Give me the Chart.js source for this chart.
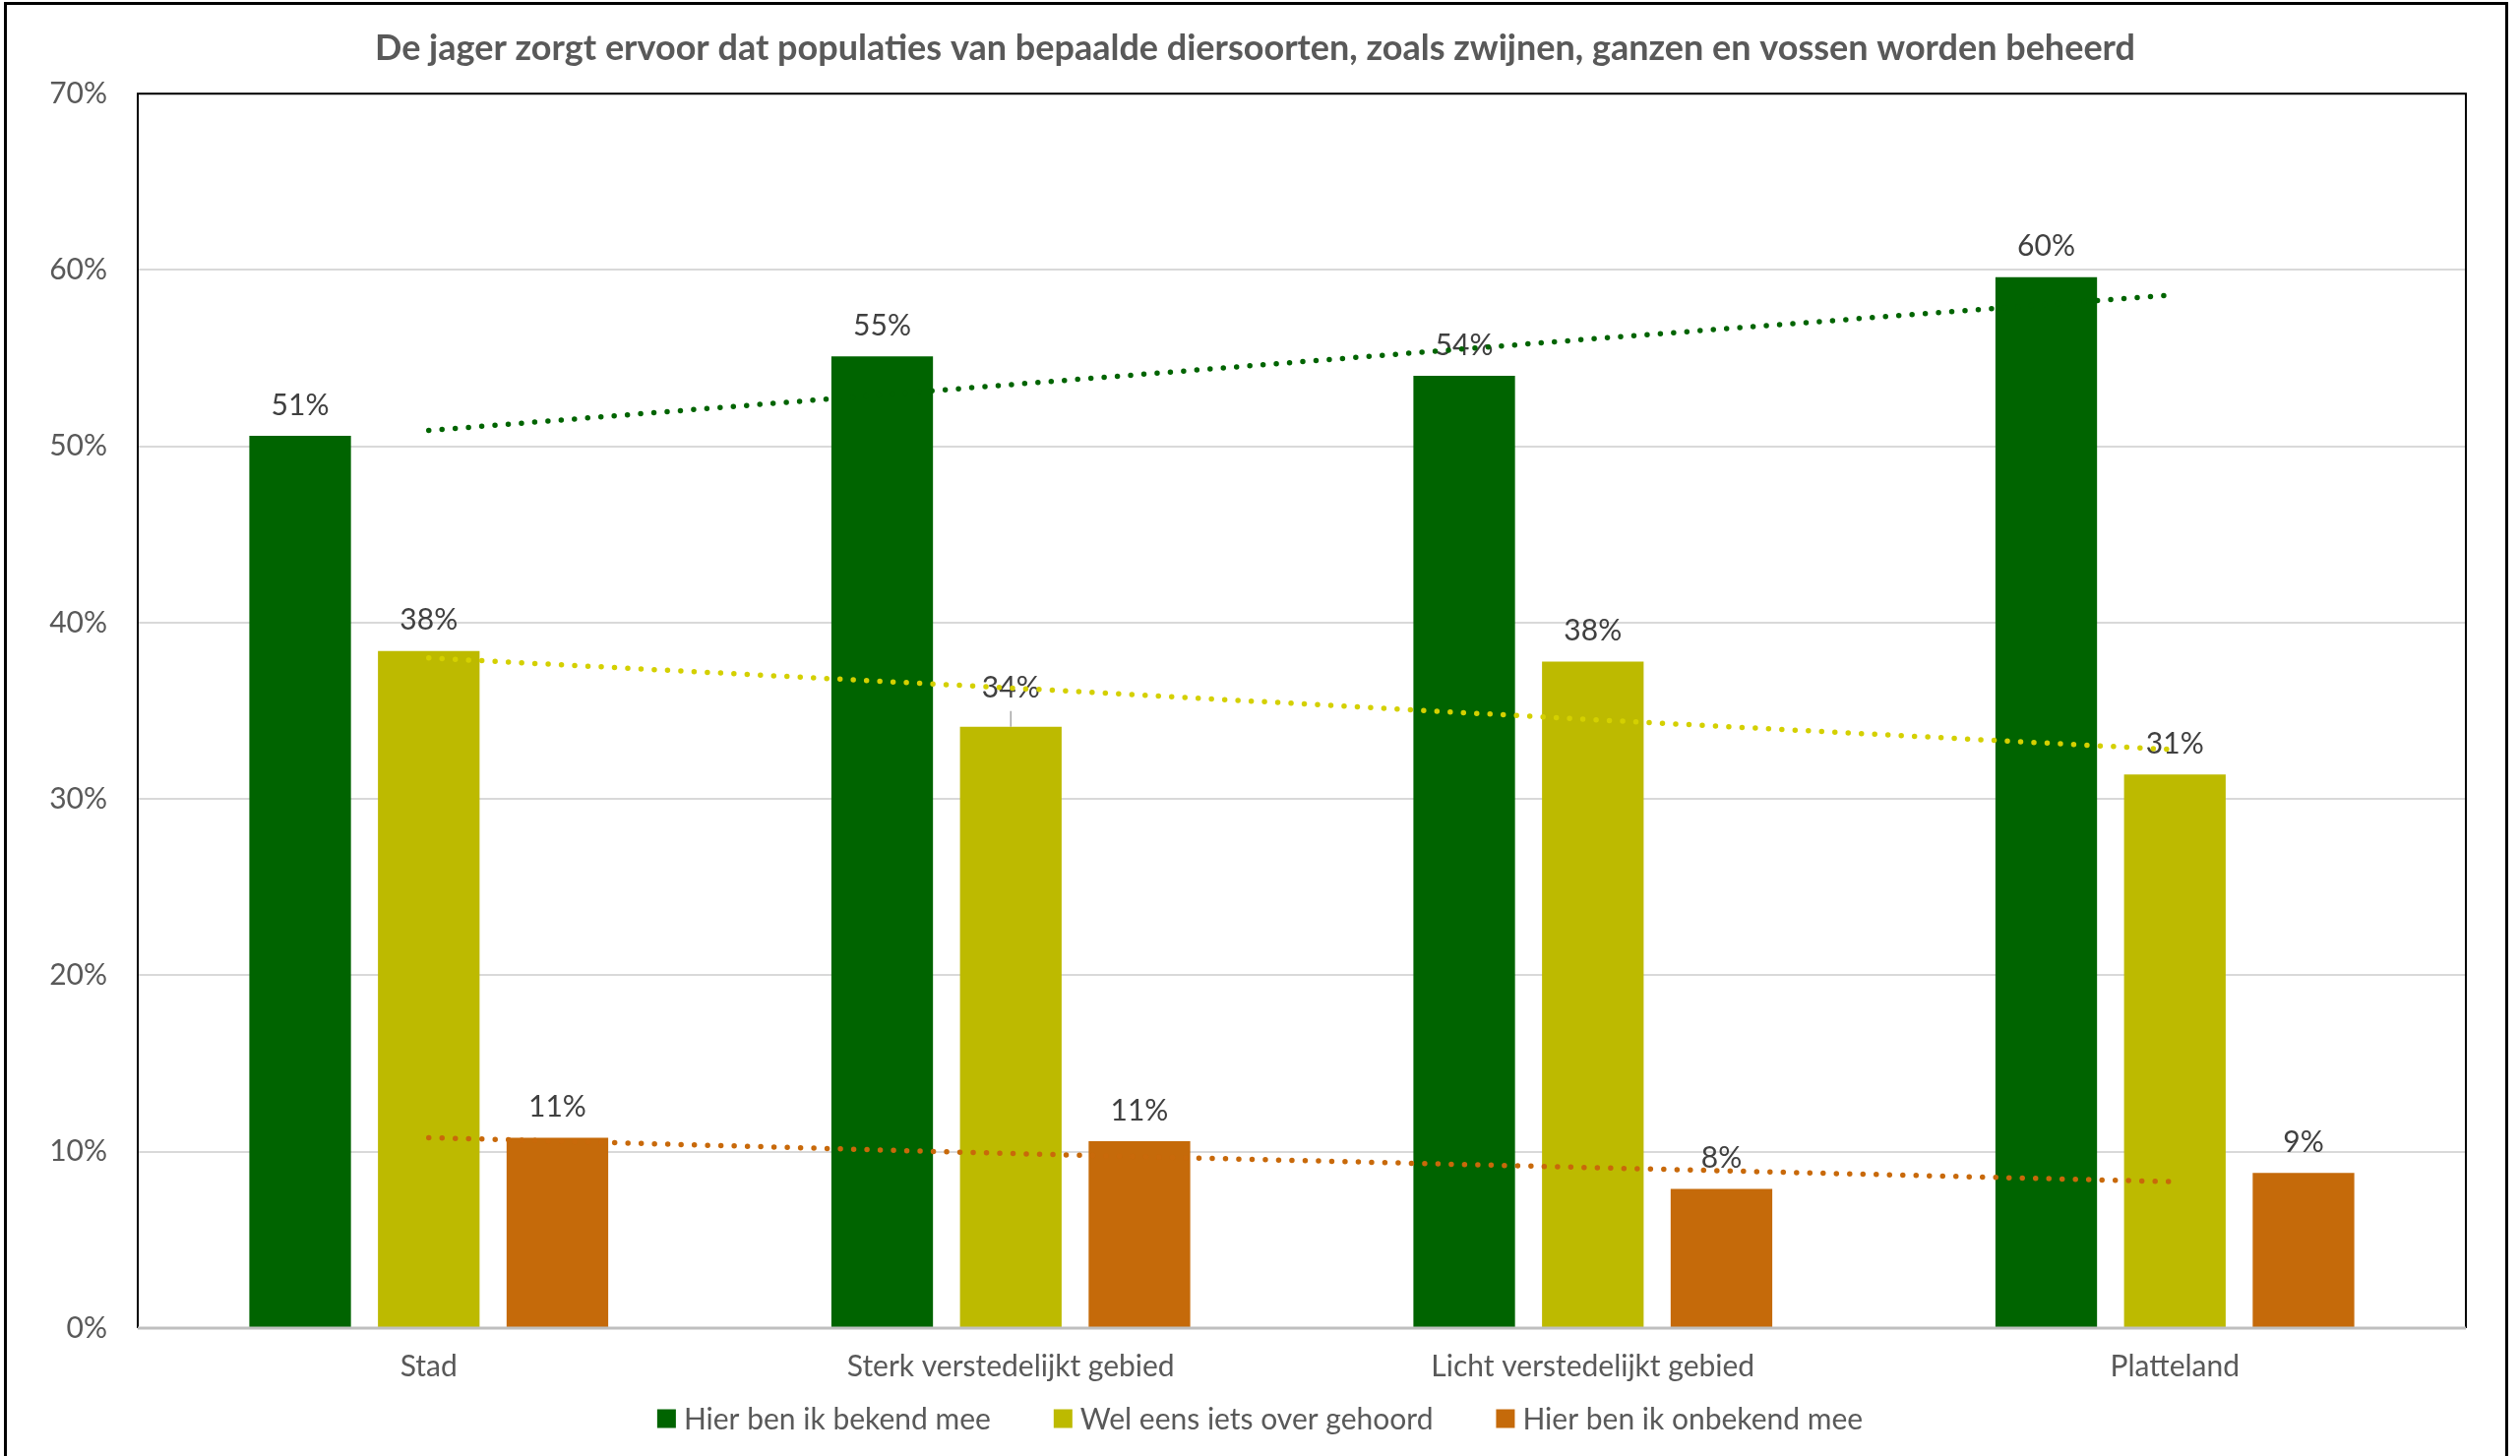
<!DOCTYPE html>
<html>
<head>
<meta charset="utf-8">
<script src="https://cdn.jsdelivr.net/npm/chart.js@4.4.1/dist/chart.umd.min.js"></script>
<style>
  html, body { margin: 0; padding: 0; background: #fff; }
  canvas { display: block; }
</style>
</head>
<body>
<canvas id="chart" width="2561" height="1480"></canvas>
<script>
// gegevens (in procenten)
const title = 'De jager zorgt ervoor dat populaties van bepaalde diersoorten, zoals zwijnen, ganzen en vossen worden beheerd';
const categories = ['Stad', 'Sterk verstedelijkt gebied', 'Licht verstedelijkt gebied', 'Platteland'];
const seriesNames = ['Hier ben ik bekend mee', 'Wel eens iets over gehoord', 'Hier ben ik onbekend mee'];
const bekend = [50.6, 55.1, 54.0, 59.6];
const gehoord = [38.4, 34.1, 37.8, 31.4];
const onbekend = [10.8, 10.6, 7.9, 8.8];
const trendBekend = [50.9, 53.5, 56.1, 58.6];
const trendGehoord = [38.0, 36.3, 34.5, 32.8];
const trendOnbekend = [10.8, 9.9, 9.1, 8.3];
const yTicks = [0, 10, 20, 30, 40, 50, 60, 70];

const barColors = ['#006400', '#BDBA00', '#C56A0A'];
const trendColors = ['#006400', '#D4D000', '#C8690A'];
const FONT = 'Lato';
const smallFont = { family: FONT, size: 30 };

// achtergrond + buitenrand
const framePlugin = {
    id: 'frame',
    beforeDraw(chart) {
        const { ctx, width, height } = chart;
        ctx.save();
        ctx.fillStyle = '#fff';
        ctx.fillRect(0, 0, width, height);
        ctx.restore();
    },
    afterDatasetsDraw(chart) {
        const { ctx } = chart;
        const { left, right, top, bottom } = chart.chartArea;
        ctx.save();
        ctx.strokeStyle = '#000';
        ctx.lineWidth = 2;
        ctx.beginPath();
        ctx.moveTo(left, bottom);
        ctx.lineTo(left, top);
        ctx.lineTo(right, top);
        ctx.lineTo(right, bottom);
        ctx.stroke();
        ctx.strokeStyle = '#bfbfbf';
        ctx.lineWidth = 3;
        ctx.beginPath();
        ctx.moveTo(left, bottom);
        ctx.lineTo(right, bottom);
        ctx.stroke();
        ctx.restore();
    },
    afterDraw(chart) {
        const { ctx } = chart;
        ctx.save();
        ctx.strokeStyle = '#000';
        ctx.lineWidth = 3;
        ctx.strokeRect(5.5, 3.5, 2542, 1520);
        ctx.restore();
    }
};

// datalabels boven de staven (voor de trendlijnen getekend)
const labelPlugin = {
    id: 'barLabels',
    afterDatasetDraw(chart, args) {
        const ds = chart.data.datasets[args.index];
        if (ds.type !== 'bar') return;
        const { ctx } = chart;
        const lift = (chart.options.plugins.barLabels.lift[args.index] || {});
        ctx.save();
        ctx.font = `${smallFont.size}px ${FONT}`;
        ctx.fillStyle = '#404040';
        ctx.textAlign = 'center';
        ctx.textBaseline = 'middle';
        args.meta.data.forEach((bar, i) => {
            const extra = lift[i] || 0;
            const y = bar.y - 31 - extra;
            if (extra) {
                ctx.strokeStyle = '#a6a6a6';
                ctx.lineWidth = 1.5;
                ctx.beginPath();
                ctx.moveTo(bar.x, bar.y);
                ctx.lineTo(bar.x, bar.y - 16);
                ctx.stroke();
            }
            ctx.fillText(Math.round(ds.data[i]) + '%', bar.x, y);
        });
        ctx.restore();
    }
};

// legenda onderaan
const legendPlugin = {
    id: 'bottomLegend',
    afterDraw(chart) {
        const { ctx } = chart;
        const items = chart.data.datasets.filter(d => d.type === 'bar');
        const box = 19, gap = 8, spacing = 64, cy = 1442;
        ctx.save();
        ctx.font = `${smallFont.size}px ${FONT}`;
        ctx.textBaseline = 'middle';
        const widths = items.map(d => box + gap + ctx.measureText(d.label).width);
        const total = widths.reduce((a, b) => a + b, 0) + spacing * (items.length - 1);
        let x = chart.width / 2 - total / 2;
        items.forEach((d, i) => {
            ctx.fillStyle = d.backgroundColor;
            ctx.fillRect(x, cy - box / 2, box, box);
            ctx.fillStyle = '#595959';
            ctx.fillText(d.label, x + box + gap, cy + 1);
            x += widths[i] + spacing;
        });
        ctx.restore();
    }
};

const barSeries = [bekend, gehoord, onbekend];
const trendSeries = [trendBekend, trendGehoord, trendOnbekend];

const datasets = [];
trendSeries.forEach((data, i) => {
    datasets.push({
        type: 'line',
        label: 'Trend ' + seriesNames[i],
        data: data,
        borderColor: trendColors[i],
        borderWidth: 5.5,
        borderDash: [0, 13.5],
        borderCapStyle: 'round',
        pointRadius: 0,
        fill: false,
        tension: 0,
        order: 0
    });
});
barSeries.forEach((data, i) => {
    datasets.push({
        type: 'bar',
        label: seriesNames[i],
        data: data,
        backgroundColor: barColors[i],
        categoryPercentage: 0.663,
        barPercentage: 0.79,
        order: 1
    });
});

new Chart(document.getElementById('chart').getContext('2d'), {
    type: 'bar',
    data: { labels: categories, datasets: datasets },
    options: {
        responsive: false,
        animation: false,
        devicePixelRatio: 1,
        layout: { padding: { left: 45, right: 55, top: 0, bottom: 0 } },
        plugins: {
            legend: { display: false },
            tooltip: { enabled: false },
            title: {
                display: true,
                text: title,
                color: '#595959',
                font: { family: FONT, size: 36, weight: 'bold' },
                padding: { top: 28, bottom: 24 }
            },
            barLabels: { lift: { 4: { 1: 8 } } }
        },
        scales: {
            x: {
                grid: { display: false, drawTicks: false },
                border: { display: false },
                ticks: { color: '#595959', font: smallFont, padding: 21, maxRotation: 0, autoSkip: false },
                afterFit(scale) { scale.height = 130; }
            },
            y: {
                min: 0,
                max: 70,
                afterBuildTicks(scale) { scale.ticks = yTicks.map(v => ({ value: v })); },
                ticks: { color: '#595959', font: smallFont, padding: 31, callback: v => v + '%' },
                grid: { color: '#d9d9d9', lineWidth: 2, drawTicks: false },
                border: { display: false },
                afterFit(scale) { scale.width = 95; }
            }
        }
    },
    plugins: [framePlugin, labelPlugin, legendPlugin]
});
</script>
</body>
</html>
